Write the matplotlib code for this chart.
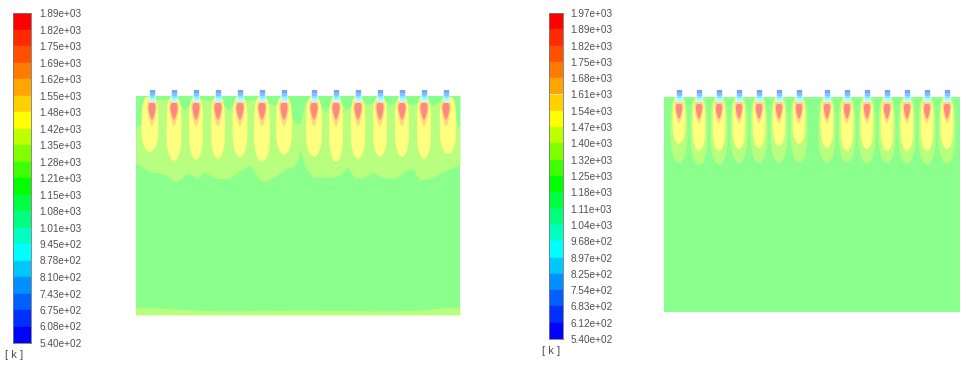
from typing import *

import numpy as np
from matplotlib import pyplot as plt
from matplotlib.patches import Polygon, Rectangle

plt.rcParams['font.family'] = ['Liberation Sans', 'DejaVu Sans']

W, H = 973, 367

# colour bars, top to bottom
BAND_COLORS = ['#ff0000', '#ff2a00', '#ff5000', '#ff7a00', '#ffa500', '#ffd000', '#ffff00', '#c0ff00', '#80ff00', '#40ff00',
			   '#00ff00', '#00ff40', '#00ff80', '#00ffc0', '#00ffff', '#00c8ff', '#0090ff', '#0060ff', '#0030ff', '#0000ff']
left_labels = ['1.89e+03', '1.82e+03', '1.75e+03', '1.69e+03', '1.62e+03', '1.55e+03', '1.48e+03', '1.42e+03', '1.35e+03', '1.28e+03', '1.21e+03',
			   '1.15e+03', '1.08e+03', '1.01e+03', '9.45e+02', '8.78e+02', '8.10e+02', '7.43e+02', '6.75e+02', '6.08e+02', '5.40e+02']
right_labels = ['1.97e+03', '1.89e+03', '1.82e+03', '1.75e+03', '1.68e+03', '1.61e+03', '1.54e+03', '1.47e+03', '1.40e+03', '1.32e+03', '1.25e+03',
				'1.18e+03', '1.11e+03', '1.04e+03', '9.68e+02', '8.97e+02', '8.25e+02', '7.54e+02', '6.83e+02', '6.12e+02', '5.40e+02']

# left contour plot, read in pixels of the picture
left_x = [152, 174, 196, 218, 240, 262, 284, 314, 336, 358, 380, 402, 424, 446]
left_yellow_cx = [150, 174, 196, 218, 240, 262, 284, 314, 336, 358, 380, 402, 424, 448]
left_yellow_tip = [152, 161, 160, 159, 157, 162, 155, 157, 162, 159, 157, 157, 159, 154]
left_yellow_half = [8.5, 7.5, 7, 7, 7.5, 8, 8, 8, 7, 7.3, 7, 7, 7, 8.3]
left_band_x = [136, 150, 160, 167, 175, 188, 197, 205, 217, 230, 238, 250, 257, 263, 273, 287, 293, 298, 300, 305,
			   313, 332, 340, 347, 355, 363, 373, 383, 395, 403, 412, 420, 432, 442, 452, 460]
left_band_low = [163, 172, 173, 175, 182, 173, 178, 172, 179, 178, 172, 165, 177, 182, 178, 168, 167, 160, 148, 167,
				 177, 177, 175, 167, 178, 178, 172, 178, 178, 173, 168, 180, 178, 172, 168, 165]
left_top_x = [136, 141, 146, 152, 163, 174, 185, 196, 207, 218, 228, 240, 251, 262, 272, 284, 295, 300, 305, 314, 325, 336, 347, 358, 368, 380, 390, 402, 412, 424, 433, 446, 458, 460]
left_top_y = [127, 124, 101, 98, 100, 98, 110, 98, 100, 98, 110, 98, 100, 98, 105, 98, 123, 123, 101, 98, 112, 98, 110, 98, 105, 98, 105, 98, 105, 98, 105, 98, 125, 127]
left_floor_x = [136, 150, 175, 220, 270, 298, 340, 390, 420, 445, 460]
left_floor_y = [307, 307.5, 309, 311, 310.5, 310, 310.5, 311, 310, 307.5, 307]

# right contour plot
right_x = [679, 699, 719, 739, 759, 779, 799, 827, 847, 867, 887, 907, 927, 947]
right_yellow_tip = [144, 151, 151, 149, 148, 146, 144, 148, 151, 149, 151, 151, 151, 149]
right_plume_tip = [163, 165, 165, 163, 163, 163, 163, 163, 163, 164, 163, 164, 165, 164]

# width of a flame along its depth, 0 at the top and 1 at the tip
flame_depth = [0, 0.06, 0.15, 0.3, 0.5, 0.7, 0.84, 0.93, 0.98, 1]
flame_width = [0.5, 0.72, 0.88, 0.98, 1, 0.97, 0.82, 0.58, 0.3, 0]
core_depth = [0, 0.12, 0.3, 0.55, 0.78, 0.92, 1]
core_width = [0.6, 0.92, 1, 0.8, 0.5, 0.25, 0]

GREEN, LIGHT_GREEN, YELLOW, ORANGE, RED = '#8bff8b', '#b8ff80', '#ffff80', '#ffd880', '#ff8880'
INLET_COLORS = ['#7f9fff', '#80c4ff', '#80eaff', '#a0ffff']


def px_axes(x0: float, y0: float, x1: float, y1: float) -> plt.Axes:
	return plt.gcf().add_axes([x0 / W, 1 - y1 / H, (x1 - x0) / W, (y1 - y0) / H])


def draw_colorbar(labels: List[str], x0: float, y0: float, x1: float, y1: float, pad: float, unit_x: float, unit_y: float) -> None:
	ax = px_axes(x0, y0, x1, y1)
	# the bands are equal in height, so the scale is the band number
	for i, color in enumerate(BAND_COLORS):
		ax.bar(0, 1, bottom=i, width=1, color=color, edgecolor=color, linewidth=0.3)
	ax.set_xlim(-0.5, 0.5)
	ax.set_ylim(len(BAND_COLORS), 0)
	ax.set_xticks([])
	ax.yaxis.tick_right()
	ax.set_yticks(range(len(labels)), labels)
	ax.tick_params(axis='y', length=0, pad=pad, labelsize=7.2, labelcolor='#505050')
	for spine in ax.spines.values():
		spine.set_edgecolor('#777777')
		spine.set_linewidth(0.6)
	plt.gcf().text(unit_x / W, 1 - unit_y / H, '[ k ]', fontsize=8, color='#505050', ha='center', va='center')


def draw_flame(ax: plt.Axes, cx: float, top: float, tip: float, half: float, depth: List[float], width: List[float], color: str, z: int) -> None:
	ys = top + np.array(depth) * (tip - top)
	ws = np.array(width) * half
	points = list(zip(cx - ws, ys)) + list(zip(cx + ws[::-1], ys[::-1]))
	ax.add_patch(Polygon(points, closed=True, facecolor=color, edgecolor='none', zorder=z))


def draw_inlet(ax: plt.Axes, cx: float, top: float, bottom: float) -> None:
	step = (bottom - top) / len(INLET_COLORS)
	ax.add_patch(Rectangle((cx - 3.5, top - 0.5), 7, bottom - top + 1, facecolor='#e0f4ff', edgecolor='none', zorder=6))
	for i, color in enumerate(INLET_COLORS):
		ax.add_patch(Rectangle((cx - 2.5, top + i * step), 5, step, facecolor=color, edgecolor='none', zorder=7))


plt.figure(figsize=(W / 100, H / 100), dpi=100, facecolor='white')
draw_colorbar(left_labels, 13, 13, 31, 343, 6.3, 14, 355)
draw_colorbar(right_labels, 549, 13, 563, 339, 5.4, 551, 351)

# everything of the two domains goes on one axes in picture pixels
canvas = plt.gcf().add_axes([0, 0, 1, 1], facecolor='none')
canvas.set_xlim(0, W)
canvas.set_ylim(H, 0)
canvas.axis('off')

# left domain
canvas.add_patch(Rectangle((136, 96), 324, 219, facecolor=GREEN, edgecolor='none', zorder=1))
band_x = np.array(left_band_x, dtype=float)
band_top = np.interp(band_x, left_top_x, left_top_y)
canvas.fill_between(band_x, band_top, left_band_low, color=LIGHT_GREEN, linewidth=0, zorder=2)
canvas.fill_between(left_top_x, 96, left_top_y, color=GREEN, linewidth=0, zorder=2)
canvas.fill_between(left_floor_x, left_floor_y, 315, color=LIGHT_GREEN, linewidth=0, zorder=2)
for i, cx in enumerate(left_x):
	draw_flame(canvas, left_yellow_cx[i], 97, left_yellow_tip[i], left_yellow_half[i], flame_depth, flame_width, YELLOW, 3)
	draw_flame(canvas, cx, 100, 127, 5, core_depth, core_width, ORANGE, 4)
	draw_flame(canvas, cx, 103, 120, 3.6, core_depth, core_width, RED, 5)
	draw_inlet(canvas, cx, 90, 101)

# right domain
canvas.add_patch(Rectangle((664, 97), 296, 215, facecolor=GREEN, edgecolor='none', zorder=1))
for i, cx in enumerate(right_x):
	draw_flame(canvas, cx, 97, right_plume_tip[i], 8.5, flame_depth, flame_width, LIGHT_GREEN, 2)
	draw_flame(canvas, cx, 98, right_yellow_tip[i], 6.4, flame_depth, flame_width, YELLOW, 3)
	draw_flame(canvas, cx, 100, 124, 4.6, core_depth, core_width, ORANGE, 4)
	draw_flame(canvas, cx, 104, 119, 3.2, core_depth, core_width, RED, 5)
	draw_inlet(canvas, cx, 90, 101)

plt.savefig('out.png', dpi=100)
